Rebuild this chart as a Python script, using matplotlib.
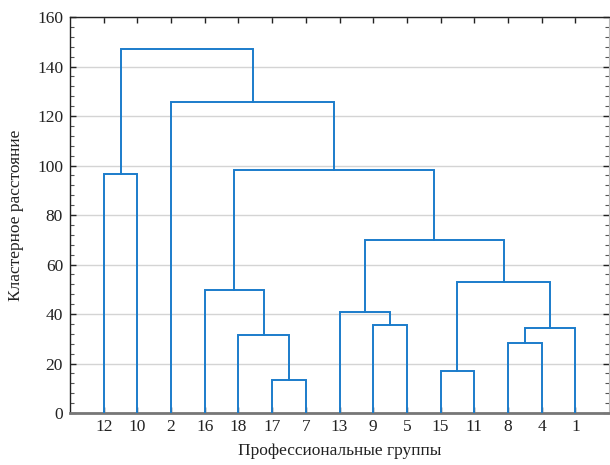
import matplotlib.pyplot as plt
from matplotlib.ticker import MultipleLocator

# leaf order along the x axis (professional groups)
leaf_labels = ["12", "10", "2", "16", "18", "17", "7", "13", "9", "5", "15", "11", "8", "4", "1"]

# merges: (left cluster, right cluster, cluster distance)
# clusters are named by leaf label or by the index of an earlier merge ("m0", "m1", ...)
merges = [
    ("17", "7", 13.3),    # m0
    ("18", "m0", 31.6),   # m1
    ("16", "m1", 49.8),   # m2
    ("9", "5", 35.6),     # m3
    ("13", "m3", 40.9),   # m4
    ("15", "11", 16.8),   # m5
    ("8", "4", 28.4),     # m6
    ("m6", "1", 34.3),    # m7
    ("m5", "m7", 52.9),   # m8
    ("m4", "m8", 70.0),   # m9
    ("m2", "m9", 98.2),   # m10
    ("2", "m10", 125.5),  # m11
    ("12", "10", 96.5),   # m12
    ("m12", "m11", 147.2),  # m13
]

LINE_COLOR = "#1b7ccb"

plt.rcParams["font.family"] = ["Liberation Serif", "DejaVu Serif"]

fig = plt.figure(figsize=(6.1, 4.65), dpi=100)
ax = fig.add_axes([0.1148, 0.1118, 0.8836, 0.8516])

pos = {lab: i + 1 for i, lab in enumerate(leaf_labels)}
height = {lab: 0.0 for lab in leaf_labels}

for k, (a, b, h) in enumerate(merges):
    xa, xb = pos[a], pos[b]
    ax.plot([xa, xa, xb, xb], [height[a], h, h, height[b]],
            color=LINE_COLOR, linewidth=1.4, solid_joinstyle="miter", zorder=3)
    name = f"m{k}"
    pos[name] = (xa + xb) / 2
    height[name] = h

ax.set_xlim(0, len(leaf_labels) + 1)
ax.set_ylim(0, 160)
ax.set_xticks(range(1, len(leaf_labels) + 1))
ax.set_xticklabels(leaf_labels)
ax.yaxis.set_major_locator(MultipleLocator(20))
ax.yaxis.set_minor_locator(MultipleLocator(4))

ax.grid(axis="y", color="#d4d4d4", linewidth=1.0, zorder=0)
ax.set_axisbelow(True)

ax.tick_params(axis="both", which="major", direction="in", labelsize=12.5,
               length=4, width=1.0, colors="#222222", labelcolor="#222222")
ax.tick_params(axis="x", top=True, bottom=True, pad=4)
ax.tick_params(axis="y", left=True, right=True, pad=5)
ax.tick_params(axis="y", which="minor", direction="in", length=3, width=0.8,
               left=True, right=True, colors="#555555")

for side in ["left", "top"]:
    ax.spines[side].set_color("#222222")
    ax.spines[side].set_linewidth(1.0)
ax.spines["right"].set_color("#bbbbbb")
ax.spines["right"].set_linewidth(0.8)
ax.spines["bottom"].set_color("#777777")
ax.spines["bottom"].set_linewidth(2.0)

ax.set_xlabel("Профессиональные группы", fontsize=12.5, color="#222222", labelpad=6)
ax.set_ylabel("Кластерное расстояние", fontsize=12.5, color="#222222", labelpad=9)

fig.savefig("out.png", dpi=100)
